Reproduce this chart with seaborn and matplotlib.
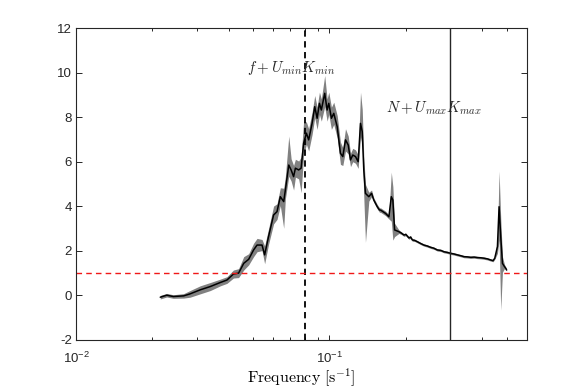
import numpy as np
import pandas as pd
import matplotlib
matplotlib.use("Agg")
import matplotlib.pyplot as plt
import matplotlib.ticker as mticker
import seaborn as sns

# ---- data ----
freq = [0.0215, 0.0228, 0.0242, 0.0266, 0.0282, 0.0309, 0.0339, 0.0371, 0.0394, 0.0418,
        0.0438, 0.0459, 0.0480, 0.0502, 0.0518, 0.0542, 0.0555, 0.0575, 0.0602, 0.0621,
        0.0640, 0.0660, 0.0670, 0.0691, 0.0706, 0.0722, 0.0734, 0.0756, 0.0773, 0.0791,
        0.0811, 0.0828, 0.0854, 0.0875, 0.0894, 0.0913, 0.0929, 0.0958, 0.0979, 0.0994,
        0.1018, 0.1040, 0.1073, 0.1105, 0.1129, 0.1157, 0.1186, 0.1211, 0.1236, 0.1267,
        0.1298, 0.1326, 0.1347, 0.1366, 0.1387, 0.1430, 0.1466, 0.1496, 0.1544, 0.1576,
        0.1591, 0.1665, 0.1716, 0.1754, 0.1779, 0.1807, 0.1879, 0.1920, 0.1967, 0.2000,
        0.2058, 0.2090, 0.2123, 0.2170, 0.2222, 0.2290, 0.2359, 0.2430, 0.2506, 0.2580,
        0.2665, 0.2750, 0.2830, 0.2920, 0.3007, 0.3100, 0.3197, 0.3300, 0.3395, 0.3500,
        0.3608, 0.3720, 0.3836, 0.3950, 0.4074, 0.4200, 0.4326, 0.4420, 0.4490, 0.4600,
        0.4670, 0.4740, 0.4815, 0.4900, 0.4960, 0.5000]
mean = [-0.08, 0.01, -0.05, -0.02, 0.07, 0.25, 0.40, 0.58, 0.69, 0.96,
        1.00, 1.44, 1.62, 2.04, 2.26, 2.26, 1.82, 2.64, 3.61, 3.76,
        4.43, 4.21, 4.73, 5.85, 5.63, 5.33, 5.71, 5.63, 5.71, 6.83,
        7.28, 6.98, 7.72, 8.47, 7.95, 8.62, 8.32, 9.07, 8.32, 8.62,
        7.95, 8.17, 7.57, 6.38, 6.23, 6.98, 6.75, 6.08, 6.30, 6.23,
        6.00, 7.72, 7.35, 5.63, 4.58, 4.43, 4.58, 4.28, 3.98, 3.83,
        3.83, 3.68, 3.53, 4.43, 4.28, 2.94, 2.86, 2.80, 2.71, 2.74,
        2.58, 2.62, 2.49, 2.47, 2.41, 2.33, 2.26, 2.22, 2.16, 2.12,
        2.04, 2.02, 1.96, 1.93, 1.89, 1.86, 1.82, 1.78, 1.74, 1.73,
        1.71, 1.72, 1.70, 1.69, 1.67, 1.64, 1.59, 1.56, 1.67, 2.19,
        3.98, 2.64, 1.44, 1.30, 1.22, 1.14]
err_lo = [0.08, 0.08, 0.08, 0.10, 0.15, 0.18, 0.18, 0.15, 0.15, 0.18,
          0.20, 0.30, 0.25, 0.30, 0.30, 0.25, 0.40, 0.35, 0.40, 0.35,
          0.40, 1.20, 0.40, 0.50, 0.50, 0.60, 0.40, 0.40, 1.10, 0.50,
          0.50, 0.50, 0.50, 0.50, 0.50, 0.50, 0.50, 0.60, 0.50, 0.50,
          0.50, 0.50, 0.50, 0.50, 0.40, 0.50, 0.40, 0.30, 0.30, 0.30,
          0.30, 0.60, 0.60, 1.20, 2.20, 0.20, 0.15, 0.10, 0.10, 0.10,
          0.10, 0.10, 0.10, 1.10, 1.80, 0.30, 0.08, 0.06, 0.06, 0.06,
          0.06, 0.06, 0.06, 0.05, 0.05, 0.05, 0.05, 0.05, 0.05, 0.05,
          0.05, 0.05, 0.05, 0.05, 0.05, 0.05, 0.05, 0.05, 0.05, 0.05,
          0.05, 0.05, 0.05, 0.05, 0.05, 0.05, 0.05, 0.05, 0.05, 0.30,
          1.50, 3.30, 0.40, 0.10, 0.05, 0.05]
err_hi = [0.08, 0.08, 0.08, 0.10, 0.15, 0.18, 0.18, 0.15, 0.15, 0.18,
          0.20, 0.30, 0.25, 0.30, 0.30, 0.25, 0.40, 0.35, 0.40, 0.35,
          0.40, 0.60, 0.60, 1.30, 0.50, 0.50, 0.40, 0.40, 0.50, 1.00,
          0.50, 0.50, 0.50, 0.50, 0.50, 0.50, 0.50, 0.80, 0.50, 0.50,
          0.50, 0.50, 0.50, 0.50, 0.40, 0.50, 0.40, 0.30, 0.30, 0.30,
          0.30, 1.40, 1.00, 0.60, 0.40, 0.20, 0.15, 0.10, 0.10, 0.10,
          0.10, 0.10, 0.10, 1.10, 0.60, 0.30, 0.08, 0.06, 0.06, 0.06,
          0.06, 0.06, 0.06, 0.05, 0.05, 0.05, 0.05, 0.05, 0.05, 0.05,
          0.05, 0.05, 0.05, 0.05, 0.05, 0.05, 0.05, 0.05, 0.05, 0.05,
          0.05, 0.05, 0.05, 0.05, 0.05, 0.05, 0.05, 0.05, 0.05, 0.30,
          1.60, 0.80, 0.30, 0.10, 0.05, 0.05]

f_min_line = 0.08      # f + U_min K_min
n_max_line = 0.30      # N + U_max K_max
ref_level = 1.0
label_min = r"$f + U_{min} K_{min}$"
label_max = r"$N + U_{max} K_{max}$"
xlabel = r"$\mathrm{Frequency}\ [\mathrm{s}^{-1}]$"

df = pd.DataFrame({"freq": freq, "mean": mean})
lower = np.array(mean) - np.array(err_lo)
upper = np.array(mean) + np.array(err_hi)

# ---- style ----
sns.set_style("ticks")
plt.rcParams["font.family"] = ["Liberation Sans", "DejaVu Sans"]
plt.rcParams["mathtext.fontset"] = "cm"

dark = (0.15, 0.15, 0.15)
fig = plt.figure(figsize=(5.81, 3.89), dpi=100)
ax = fig.add_axes([0.1308, 0.126, 0.9065 - 0.1308, 0.928 - 0.126])

ax.fill_between(df["freq"], lower, upper, color=(0.45, 0.45, 0.45), lw=0, alpha=0.9)
sns.lineplot(data=df, x="freq", y="mean", color="black", lw=1.1, ax=ax)

ax.axvline(f_min_line, color="black", ls=(0, (3.5, 2.5)), lw=1.3)
ax.axvline(n_max_line, color=dark, ls="-", lw=1.0)
ax.axhline(ref_level, color="#f01818", ls=(0, (4, 3)), lw=1.0)

ax.text(0.0708, 10.2, label_min, ha="center", va="center", fontsize=10.8)
ax.text(0.2594, 8.41, label_max, ha="center", va="center", fontsize=10.8)

ax.set_xscale("log")
ax.set_xlim(0.01, 0.6)
ax.set_ylim(-2, 12)
ax.set_yticks(np.arange(-2, 13, 2))
ax.set_yticklabels([str(v) for v in np.arange(-2, 13, 2)])
ax.xaxis.set_major_locator(mticker.LogLocator(base=10))
ax.xaxis.set_minor_locator(mticker.LogLocator(base=10, subs=np.arange(2, 10)))
ax.xaxis.set_minor_formatter(mticker.NullFormatter())

ax.set_xlabel(xlabel, fontsize=11.5, color="black")
ax.xaxis.set_label_coords(0.5, -0.085)
ax.set_ylabel("")

for s in ax.spines.values():
    s.set_visible(True)
    s.set_color(dark)
    s.set_linewidth(0.8)
ax.tick_params(which="both", direction="in", top=True, right=True, colors=dark,
               labelsize=9.5, width=0.7)
ax.tick_params(which="major", length=3.8)
ax.tick_params(which="minor", length=2.3)
ax.tick_params(axis="y", which="major", length=4.3, pad=3)
ax.tick_params(axis="x", which="major", pad=8)

fig.savefig("out.png", dpi=100)
